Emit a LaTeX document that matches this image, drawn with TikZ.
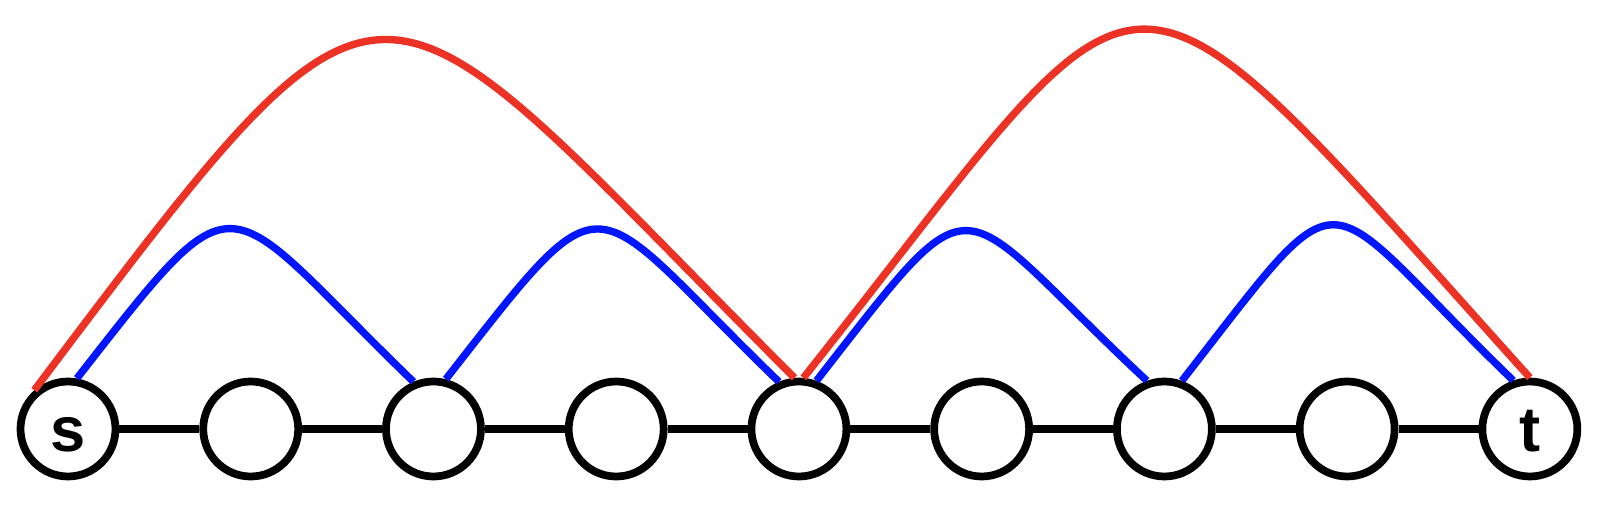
\documentclass[tikz,border=0pt]{standalone}
\usepackage{fontspec}
\setmainfont{Liberation Sans}
\usetikzlibrary{calc}

\definecolor{arcred}{RGB}{236,50,36}
\definecolor{arcblue}{RGB}{0,22,255}

\begin{document}
\begin{tikzpicture}[
    vertex/.style={circle,draw=black,line width=2.2pt,minimum size=0.95cm,inner sep=0pt,text height=0.45cm,text depth=0pt,font=\fontsize{18}{18}\selectfont\bfseries},
    edge/.style={draw=black,line width=2.2pt},
    longarc/.style={draw=arcred,line width=2.1pt},
    shortarc/.style={draw=arcblue,line width=2.1pt}]
        \useasboundingbox (0,0) rectangle (16.10,5.08);

        \node[vertex] (s) at (0.68,0.79) {s};
        \node[vertex,anchor=west] (v1) at ($(s.east)+(0.80,0)$) {};
        \node[vertex,anchor=west] (v2) at ($(v1.east)+(0.80,0)$) {};
        \node[vertex,anchor=west] (v3) at ($(v2.east)+(0.80,0)$) {};
        \node[vertex,anchor=west] (v4) at ($(v3.east)+(0.80,0)$) {};
        \node[vertex,anchor=west] (v5) at ($(v4.east)+(0.80,0)$) {};
        \node[vertex,anchor=west] (v6) at ($(v5.east)+(0.80,0)$) {};
        \node[vertex,anchor=west] (v7) at ($(v6.east)+(0.80,0)$) {};
        \node[vertex,anchor=west] (t) at ($(v7.east)+(0.80,0)$) {t};

        \draw[edge] (s) -- (v1);
        \draw[edge] (v1) -- (v2);
        \draw[edge] (v2) -- (v3);
        \draw[edge] (v3) -- (v4);
        \draw[edge] (v4) -- (v5);
        \draw[edge] (v5) -- (v6);
        \draw[edge] (v6) -- (v7);
        \draw[edge] (v7) -- (t);

        % short hops
        \draw[shortarc] (s.80) .. controls +(52:2.72) and +(136:2.72) .. (v2.113);
        \draw[shortarc] (v2.76) .. controls +(52:2.72) and +(136:2.72) .. (v4.113);
        \draw[shortarc] (v4.70) .. controls +(52:2.72) and +(137:2.72) .. (v6.110);
        \draw[shortarc] (v6.70) .. controls +(52:2.8) and +(136:2.8) .. (t.109);

        % long hops
        \draw[longarc] (s.131) .. controls +(53:6.1) and +(135:6.1) .. (v4.95);
        \draw[longarc] (v4.85) .. controls +(51.5:5.8) and +(132:6.4) .. (t.90);
    \end{tikzpicture}
\end{document}
